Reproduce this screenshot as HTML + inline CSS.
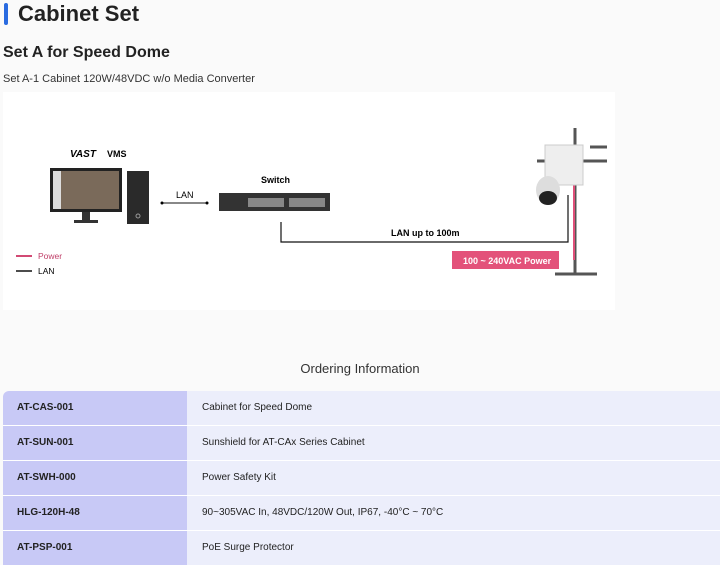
<!DOCTYPE html>
<html><head><meta charset="utf-8"><style>
body{margin:0;width:720px;height:564px;background:#fafafa;font-family:"Liberation Sans",sans-serif;position:relative;overflow:hidden;color:#222}
.a{position:absolute}
</style></head><body>
<div class="a" style="left:4px;top:3px;width:4px;height:22px;background:#2a6be0;border-radius:2px"></div>
<div class="a" style="left:18px;top:1px;font-size:22px;font-weight:bold;color:#222">Cabinet Set</div>
<div class="a" style="left:3px;top:44px;font-size:16px;font-weight:bold;color:#222">Set A for Speed Dome</div>
<div class="a" style="left:3px;top:73px;font-size:11px;color:#333">Set A-1 Cabinet 120W/48VDC w/o Media Converter</div>
<div class="a" style="left:3px;top:92px;width:612px;height:218px;background:#fff"></div>
<svg class="a" style="left:0;top:0" width="720" height="564">
<g font-family="Liberation Sans, sans-serif" font-weight="bold">
<text x="70" y="157" font-size="10" font-style="italic">VAST</text>
<text x="107" y="157" font-size="9">VMS</text>
<rect x="50" y="168" width="72" height="44" fill="#222"/>
<rect x="53" y="171" width="66" height="38" fill="#7a6a5a"/>
<rect x="53" y="171" width="8" height="38" fill="#ddd"/>
<rect x="82" y="212" width="8" height="9" fill="#333"/><rect x="74" y="220" width="24" height="3" fill="#333"/>
<rect x="127" y="171" width="22" height="53" fill="#2a2a2a"/>
<circle cx="138" cy="216" r="2" fill="none" stroke="#999"/>
<line x1="162" y1="203" x2="207" y2="203" stroke="#111" stroke-width="1"/>
<circle cx="162" cy="203" r="1.5"/><circle cx="207" cy="203" r="1.5"/>
<text x="176" y="198" font-size="9" font-weight="normal">LAN</text>
<text x="261" y="183" font-size="9">Switch</text>
<rect x="219" y="193" width="111" height="18" fill="#333"/>
<rect x="248" y="198" width="36" height="9" fill="#888"/><rect x="289" y="198" width="36" height="9" fill="#888"/>
<polyline points="281,222 281,242 568,242 568,195" fill="none" stroke="#111" stroke-width="1.2"/>
<text x="391" y="236" font-size="9">LAN up to 100m</text>
<line x1="575" y1="128" x2="575" y2="274" stroke="#555" stroke-width="3"/>
<line x1="574" y1="185" x2="574" y2="260" stroke="#e0507a" stroke-width="2"/>
<line x1="537" y1="161" x2="607" y2="161" stroke="#555" stroke-width="3"/>
<line x1="537" y1="161" x2="607" y2="161" stroke="#555" stroke-width="3" transform="translate(0,-4)" opacity="0"/>
<line x1="590" y1="147" x2="607" y2="147" stroke="#555" stroke-width="3"/>
<line x1="555" y1="274" x2="597" y2="274" stroke="#555" stroke-width="3"/>
<rect x="545" y="145" width="38" height="40" fill="#eee" stroke="#ccc"/>
<ellipse cx="548" cy="190" rx="12" ry="14" fill="#ddd"/>
<ellipse cx="548" cy="198" rx="9" ry="7" fill="#222"/>
<rect x="452" y="251" width="107" height="18" fill="#e3527a"/>
<text x="463" y="264" font-size="9" fill="#fff">100 ~ 240VAC Power</text>
<line x1="16" y1="256" x2="32" y2="256" stroke="#d24a74" stroke-width="2"/>
<text x="38" y="259" font-size="8.5" fill="#c0406a" font-weight="normal">Power</text>
<line x1="16" y1="271" x2="32" y2="271" stroke="#111" stroke-width="1.5"/>
<text x="38" y="274" font-size="8.5" font-weight="normal">LAN</text>
</g></svg>
<div class="a" style="left:0;width:720px;top:361px;text-align:center;font-size:13px;color:#333">Ordering Information</div>
<div class="a" style="left:3px;top:391px;width:717px;height:173px;font-size:10px">
<div style="display:flex;height:34px;border-bottom:1px solid #fff"><div style="width:184px;background:#c8c9f6;padding-left:14px;line-height:34px;box-sizing:border-box;font-weight:bold;border-top-left-radius:6px">AT-CAS-001</div><div style="flex:1;background:#eceefb;padding-left:15px;line-height:34px">Cabinet for Speed Dome</div></div>
<div style="display:flex;height:34px;border-bottom:1px solid #fff"><div style="width:184px;background:#c8c9f6;padding-left:14px;line-height:34px;box-sizing:border-box;font-weight:bold">AT-SUN-001</div><div style="flex:1;background:#eceefb;padding-left:15px;line-height:34px">Sunshield for AT-CAx Series Cabinet</div></div>
<div style="display:flex;height:34px;border-bottom:1px solid #fff"><div style="width:184px;background:#c8c9f6;padding-left:14px;line-height:34px;box-sizing:border-box;font-weight:bold">AT-SWH-000</div><div style="flex:1;background:#eceefb;padding-left:15px;line-height:34px">Power Safety Kit</div></div>
<div style="display:flex;height:34px;border-bottom:1px solid #fff"><div style="width:184px;background:#c8c9f6;padding-left:14px;line-height:34px;box-sizing:border-box;font-weight:bold">HLG-120H-48</div><div style="flex:1;background:#eceefb;padding-left:15px;line-height:34px">90~305VAC In, 48VDC/120W Out, IP67, -40°C ~ 70°C</div></div>
<div style="display:flex;height:34px"><div style="width:184px;background:#c8c9f6;padding-left:14px;line-height:34px;box-sizing:border-box;font-weight:bold">AT-PSP-001</div><div style="flex:1;background:#eceefb;padding-left:15px;line-height:34px">PoE Surge Protector</div></div>
</div>
</body></html>
